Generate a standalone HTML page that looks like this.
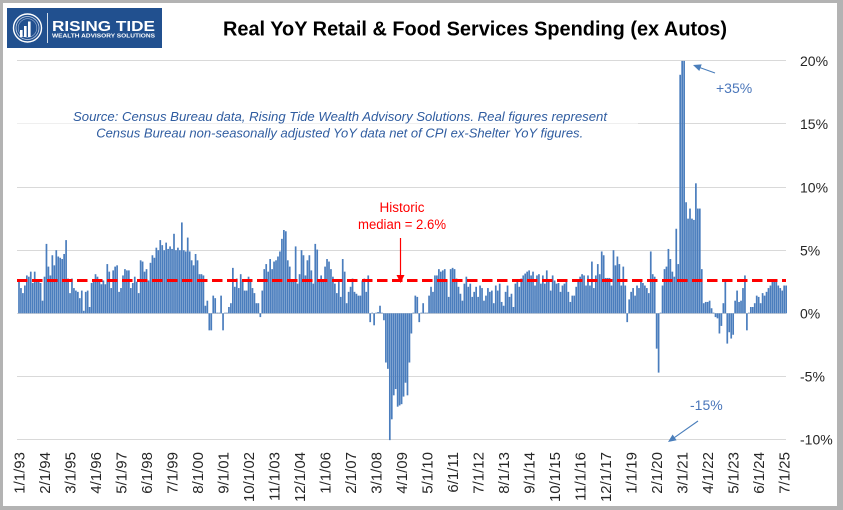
<!DOCTYPE html>
<html><head><meta charset="utf-8"><style>
html,body{margin:0;padding:0;background:#fff;}
svg{display:block;}
text{font-family:"Liberation Sans",Arial,sans-serif;}
</style></head><body>
<svg id="chart" width="843" height="510" viewBox="0 0 843 510" xmlns="http://www.w3.org/2000/svg">
<rect x="0" y="0" width="843" height="510" fill="#b3b3b3"/>
<rect x="3" y="3" width="834" height="503" fill="#ffffff"/>

<!-- Logo -->
<rect x="7" y="8" width="155" height="40" fill="#21508f"/>
<circle cx="27.5" cy="28" r="14" fill="none" stroke="#ffffff" stroke-width="1.4"/>
<circle cx="27.5" cy="28" r="11.5" fill="none" stroke="#c9d6ea" stroke-width="0.8"/>
<circle cx="27.5" cy="28" r="9.3" fill="none" stroke="#9fb5d6" stroke-width="0.6"/>
<rect x="20" y="30" width="2.6" height="7" fill="#ffffff"/>
<rect x="24" y="26" width="2.6" height="11" fill="#ffffff"/>
<rect x="28" y="21.5" width="2.6" height="15.5" fill="#ffffff"/>
<line x1="47.5" y1="13" x2="47.5" y2="43" stroke="#ffffff" stroke-width="0.8"/>
<text x="52" y="31" font-size="15" font-weight="bold" fill="#ffffff" textLength="103" lengthAdjust="spacingAndGlyphs">RISING TIDE</text>
<text x="52" y="37.6" font-size="5.5" font-weight="bold" fill="#ffffff" textLength="103" lengthAdjust="spacingAndGlyphs">WEALTH ADVISORY SOLUTIONS</text>

<!-- Title -->
<text x="223" y="35.7" font-size="20" font-weight="bold" fill="#000000" textLength="504" lengthAdjust="spacingAndGlyphs">Real YoY Retail &amp; Food Services Spending (ex Autos)</text>

<!-- Gridlines -->
<g stroke="#d9d9d9" stroke-width="1">
<line x1="17" x2="786" y1="60.5" y2="60.5"/>
<line x1="17" x2="786" y1="187.5" y2="187.5"/>
<line x1="17" x2="786" y1="250.5" y2="250.5"/>
<line x1="17" x2="786" y1="313.5" y2="313.5"/>
<line x1="17" x2="786" y1="376.5" y2="376.5"/>
<line x1="17" x2="786" y1="439.5" y2="439.5"/>
<line x1="638" x2="786" y1="123.5" y2="123.5"/>
</g>
<line x1="17" x2="638" y1="123.5" y2="123.5" stroke="#efefef" stroke-width="1"/>

<!-- Bars -->
<g id="bars" fill="#4a7dbd"></g>

<!-- Median line -->
<line x1="17" x2="786" y1="280.5" y2="280.5" stroke="#ff0000" stroke-width="3" stroke-dasharray="10.5 4.5"/>

<!-- Y labels -->
<g font-size="14" fill="#262626">
<text x="800" y="66">20%</text>
<text x="800" y="129">15%</text>
<text x="800" y="192.5">10%</text>
<text x="800" y="255.5">5%</text>
<text x="800" y="318.5">0%</text>
<text x="800" y="381.5">-5%</text>
<text x="800" y="444.5">-10%</text>
</g>

<!-- X labels -->
<g id="xlabels" font-size="15" fill="#262626"></g>

<!-- Source text -->
<g font-size="13.2" font-style="italic" fill="#2f5ca0" text-anchor="middle">
<text x="340" y="121" textLength="534" lengthAdjust="spacingAndGlyphs">Source: Census Bureau data, Rising Tide Wealth Advisory Solutions. Real figures represent</text>
<text x="339.7" y="137.5" textLength="487" lengthAdjust="spacingAndGlyphs">Census Bureau non-seasonally adjusted YoY data net of CPI ex-Shelter YoY figures.</text>
</g>

<!-- Median annotation -->
<g fill="#ff0000" font-size="13.5" text-anchor="middle">
<text x="402" y="212">Historic</text>
<text x="402" y="229" textLength="88" lengthAdjust="spacingAndGlyphs">median = 2.6%</text>
</g>
<line x1="400.5" y1="238" x2="400.5" y2="276" stroke="#ff0000" stroke-width="1.2"/>
<polygon points="396.5,275 404.5,275 400.5,283" fill="#ff0000"/>

<!-- +35% annotation -->
<text x="716" y="93" font-size="14" fill="#4a76ba">+35%</text>
<line x1="715" y1="73" x2="700" y2="67.6" stroke="#4a7ebb" stroke-width="1.1"/>
<polygon points="693,65 701.7,64.4 699.3,71.0" fill="#4a7ebb"/>

<!-- -15% annotation -->
<text x="690" y="410" font-size="14" fill="#4a76ba">-15%</text>
<line x1="698" y1="421" x2="674.6" y2="437.4" stroke="#4a7ebb" stroke-width="1.1"/>
<polygon points="668,442 676.6,440.3 672.6,434.5" fill="#4a7ebb"/>
</svg>
<script>
(function(){
var NS="http://www.w3.org/2000/svg";
var A=[2.5,2.0,1.6,2.2,3.0,2.9,3.3,2.4,3.3,2.7,2.7,2.4,1.0,2.9,
5.5,3.7,3.0,4.6,3.8,5.0,4.5,4.4,4.3,4.7,5.8,2.75,1.6,2.75,2.0,1.8,1.7,1.2,1.8,0.2,
1.7,1.8,0.5,2.4,2.6,3.1,2.9,2.6,2.3,2.6,2.3,3.9,3.3,2.0,3.4,3.7,3.8,1.7,2.0,3.0,3.5,3.4,3.4,2.0,2.4,2.9,2.5,1.6,
4.2,4.1,3.3,3.5,2.6,4.0,4.6,4.4,5.2,5.0,5.8,5.4,5.0,5.6,5.1,5.3,5.1,6.3,5.0,5.2,5.0,
7.2,
5.0,4.9,6.0,4.9,4.2,3.8,4.7,4.2];
var B=[200,3.1,202.7,3.1,204,3.0,205,0.6,207.3,1.0,210.7,-1.35,212.7,1.4,215,1.2,218.3,0.05,220.7,1.4,222.7,-1.35,224,-0.2,226,0.05,228.3,0.5,230.7,0.8,232.3,2.1,233.3,3.6,235,2.1,237.3,2.75,239.3,2.0,241.7,3.1,243.3,2.6,245.7,1.8,247.7,2.9,250,2.6,251.7,2.0,253.3,1.6,256,0.8,258.3,0.8,260,-0.3,263.3,1.8,265,3.5,266.7,3.9,268.3,3.3,270,4.3,271.7,3.5,274,4.1,276,4.2,278.3,4.5,280,4.9,281.7,5.9,283.3,6.6,285,6.5,287.3,4.2,289.3,3.7,290.7,3.5,292.7,2.6,295,5.3,296.7,4.2,298.3,2.35,300,3.1,301.7,5.0,303.3,4.6,305,3.0,306.7,4.2,309,4.6,311,3.4,313.3,2.35,315,5.5,317.3,5.05,319.3,2.5,320.7,3.0,322.3,2.6,324,5.6,325.7,3.7,327.7,4.3,329.3,4.1,331,3.5,332.7,2.9,335,2.35,336.7,1.6,339.3,2.5,
341.7,1.3,343.3,4.3,345,3.3,346.7,0.8,348.3,1.7,350.7,2.1,352.7,2.75,355,1.7,356.7,1.55,358.3,1.4,360.7,1.4,362.3,2.6,364,2.75,366,1.7,367.7,3.0,369.3,-0.7,371.7,0.05,373.3,-0.95,375,-1.5,376.7,0.05,378.3,0.1,380,0.6,381.7,0.05,383.3,-0.55,385,-2.7,386.7,-3.9,388.3,-4.4,390,-10.5,391.7,-8.4,393.3,-6.5,395,-6.0,396.7,-5.5,398.3,-7.4,400,-7.3,401.7,-7.2,403.3,-6.6,405,-5.5,406.7,-6.5,408.3,-4.3,410,-3.9,411.7,-1.6,413.3,0.05,415,1.4,416.7,1.3,418.3,-0.7,420,-0.7,421.7,0.05,423.3,0.8,425,0.05,427.3,0.05,430,1.4,431.7,2.1,433.3,1.7,435,3.0,436.7,3.0,438.3,3.5,440,3.3,441.7,3.5,443.3,3.4,445,3.5,446.7,2.6,448.3,1.3,450,3.5,451.7,3.5,453.3,3.6,455,3.5,456.7,2.75,458.3,2.1,460,1.55,461.7,1.0,463.3,1.8,465,2.35,466.7,2.9,468.3,2.1,470,2.35,471.7,1.3,473.3,0.6,475,1.7,476.7,2.1,478.3,1.3,480,2.2,481.7,2.0,483.3,1.0,485,1.55,486.7,1.4,488.3,2.0,490,1.7,491.7,1.8,493.3,0.8,495,2.2,496.7,2.1,498.3,1.8,500,2.35,501.7,0.9,503.3,0.6,505,1.7,506.7,2.0,508.3,2.2,510,1.3,511.7,1.55,513.3,0.5,515,2.35,516.7,2.5,518.3,2.6,520,2.1,521.7,2.75,523.3,3.0,525,3.15,526.7,3.3,528.3,3.4,530,3.15,531.7,3.0,533.3,3.3,535,2.2,536.7,3.0,538.3,3.1,540,2.9,541.7,2.35,543.3,3.0,545,2.35,546.7,3.4,548.3,2.6,550,1.8,551.7,1.7,553.3,3.0,555,2.6,556.7,2.35,558.3,2.4,560,1.7,561.7,2.2,563.3,1.8,565,2.35,566.7,2.6,568.3,1.7,570,0.9,571.7,1.4,573.3,2.75,575,1.4,576.7,2.1,578.3,2.6,
580,2.9,582.7,3.1,584,3.0,585,3.0,586.7,2.2,588.3,3.0,590,2.2,591.7,4.1,593.3,2.0,595,3.0,596.7,3.3,598.3,3.9,600,3.1,601.7,4.9,603.3,4.6,605,2.8,606.7,3.5,608.3,2.8,610,2.8,611.7,2.2,613.3,5.0,615,3.8,616.7,4.5,618.3,3.9,620,3.9,621.7,2.2,623.3,3.7,625,2.2,626.7,-0.7,628.3,1.0,630,1.1,631.7,1.7,633.3,2.0,635,1.4,636.7,2.2,638.3,2.0,640,2.4,641.7,2.5,643.3,2.4,645,2.2,646.7,2.0,648.3,1.6,650,4.9,651.7,3.5,653.3,3.1,655,2.9,656.7,-2.8,658.3,-4.7,659.3,-16,661.7,0.05,663.3,2.2,665,3.5,666.7,3.7,668.3,5.1,670,4.3,671.7,3.3,673.3,2.9,675,2.9,676.7,6.7,678.3,3.9,680,18.9,681.7,35,683.3,22,685,11.5,686.7,8.8,688.3,7.5,690,8.3,691.7,7.5,693.3,7.4,695,9.2,696,10.3,697.3,8.3,699.3,8.3,700.7,7.9,702.3,3.5,704,0.8,706,0.9,707.7,0.9,709.3,1.0,710.7,0.9,712.3,0.4,714,0.05,716,-0.3,717.7,-0.4,719.3,-1.6,721,-1.0,722.7,0.05,724,0.8,725,2.5,726.7,-2.4,728.3,-0.7,730,-1.5,731.7,-2.0,733.3,-1.7,735,1.0,736.7,1.8,738.3,0.9,740,1.4,741.7,1.0,743.3,2.0,745,3.0,746.7,-1.35,748.3,0.05,750,0.5,751.7,1.6,753.3,0.5,755,0.8,756.7,1.4,758.3,1.3,760,0.8,761.7,1.4,763.3,1.6,765,1.4,766.7,1.7,768.3,2.0,770,2.2,771.7,2.5,773.3,2.6,775,2.5,776.7,2.6,778.3,2.2,780,2.0,781.7,1.8,783.3,2.2,785,2.2];
var g=document.getElementById("bars");
var Y0=313.3, K=12.62;
for(var i=0;i<392;i++){
  var cx=19+1.962*i, v;
  if(i<92){v=A[i];}
  else{
    var best=1e9;
    for(var j=0;j<B.length;j+=2){
      var d=Math.abs(B[j]-cx);
      if(d<best){best=d;v=B[j+1];}
    }
  }
  if(v>20)v=20; if(v<-10.05)v=-10.05;
  var y1=Y0-K*v;
  var top=Math.min(Y0,y1), h=Math.abs(y1-Y0);
  if(h<0.6)h=0.6;
  var r=document.createElementNS(NS,"rect");
  r.setAttribute("x",(cx-0.85).toFixed(2));
  r.setAttribute("y",top.toFixed(2));
  r.setAttribute("width","1.7");
  r.setAttribute("height",h.toFixed(2));
  g.appendChild(r);
}
var labels=["1/1/93","2/1/94","3/1/95","4/1/96","5/1/97","6/1/98","7/1/99","8/1/00","9/1/01","10/1/02","11/1/03","12/1/04","1/1/06","2/1/07","3/1/08","4/1/09","5/1/10","6/1/11","7/1/12","8/1/13","9/1/14","10/1/15","11/1/16","12/1/17","1/1/19","2/1/20","3/1/21","4/1/22","5/1/23","6/1/24","7/1/25"];
var xl=document.getElementById("xlabels");
for(var k=0;k<labels.length;k++){
  var bx=24.5+25.5*k;
  var t=document.createElementNS(NS,"text");
  t.setAttribute("transform","translate("+bx.toFixed(2)+",452) rotate(-90)");
  t.setAttribute("text-anchor","end");
  t.setAttribute("x","0");t.setAttribute("y","0");
  t.textContent=labels[k];
  xl.appendChild(t);
}
})();
</script>
</body></html>
